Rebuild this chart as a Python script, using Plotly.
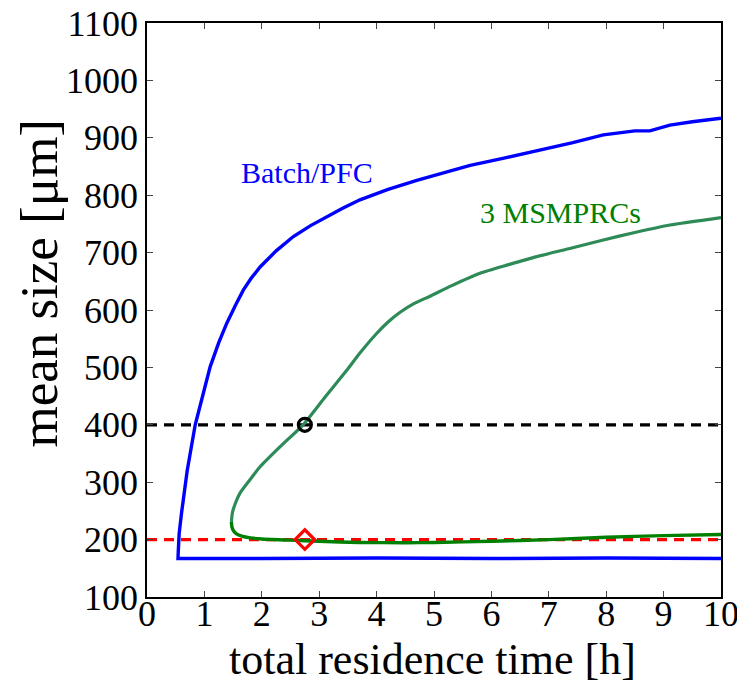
import plotly.graph_objects as go

# Batch/PFC curve (blue)
blue_x = [10, 8, 6, 4, 2, 1, 0.54, 0.545, 0.56, 0.60, 0.63, 0.70, 0.84, 0.95, 1.10, 1.25, 1.39,
          1.55, 1.68, 1.82, 1.97, 2.25, 2.55, 2.85, 3.13, 3.40, 3.71, 4.20, 4.70, 5.20, 5.63,
          6.20, 6.79, 7.40, 7.95, 8.50, 8.76, 9.11, 9.50, 10]
blue_y = [167, 168, 167, 168, 167, 167, 167, 180, 210, 245, 269, 320, 400, 445, 501, 543, 577,
          610, 635, 656, 675, 703, 728, 747, 763, 777, 792, 810, 826, 840, 852,
          864, 877, 891, 905, 912, 912, 922, 928, 934]

# 3 MSMPRCs, upper branch (seagreen)
green_up_x = [1.47, 1.49, 1.55, 1.62, 1.80, 1.97, 2.32, 2.72, 3.10, 3.48, 3.71, 4.00, 4.20, 4.41,
              4.65, 4.93, 5.30, 5.80, 6.30, 6.79, 7.40, 7.95, 8.50, 9.11, 10]
green_up_y = [231, 248, 266, 281, 305, 327, 362, 400, 448, 495, 525, 559, 579, 596,
              611, 624, 642, 664, 679, 693, 708, 722, 735, 748, 761]

# 3 MSMPRCs, lower branch (green)
green_lo_x = [1.47, 1.48, 1.51, 1.56, 1.65, 1.80, 2.0, 2.5, 3.0, 3.71, 4.5, 5, 6, 7, 8, 9, 10]
green_lo_y = [231, 222, 215, 210, 206, 203, 201, 199, 197, 195, 194.5, 195, 197, 200, 204, 207, 209]

# reference levels and operating points
target_levels = [400, 200]
op_x = [2.75, 2.75]
op_y = [400, 200]

x_ticks = list(range(0, 11))
y_ticks = list(range(100, 1101, 100))

FONT = "Liberation Serif, Times New Roman, serif"

fig = go.Figure()
fig.add_trace(go.Scatter(x=[0, 10], y=[target_levels[0]] * 2, mode="lines",
                         line=dict(color="black", width=3.2, dash="10px,7px"), showlegend=False))
fig.add_trace(go.Scatter(x=[0, 10], y=[target_levels[1]] * 2, mode="lines",
                         line=dict(color="red", width=3.2, dash="10px,7px"), showlegend=False))
fig.add_trace(go.Scatter(x=blue_x, y=blue_y, mode="lines",
                         line=dict(color="#0000ff", width=3.4), showlegend=False))
fig.add_trace(go.Scatter(x=green_up_x, y=green_up_y, mode="lines",
                         line=dict(color="#2e8b57", width=3.2, shape="spline", smoothing=0.6),
                         showlegend=False))
fig.add_trace(go.Scatter(x=green_lo_x, y=green_lo_y, mode="lines",
                         line=dict(color="#008000", width=3.4, shape="spline", smoothing=0.5),
                         showlegend=False))
fig.add_trace(go.Scatter(x=[op_x[0]], y=[op_y[0]], mode="markers",
                         marker=dict(symbol="circle-open", size=13, color="black",
                                     line=dict(width=3.2, color="black")), showlegend=False))
fig.add_trace(go.Scatter(x=[op_x[1]], y=[op_y[1]], mode="markers",
                         marker=dict(symbol="diamond-open", size=15, color="red",
                                     line=dict(width=3.2, color="red")), showlegend=False))

fig.add_annotation(x=2.79, y=840, text="Batch/PFC", showarrow=False,
                   font=dict(family=FONT, size=30, color="#0000ff"))
fig.add_annotation(x=7.2, y=770, text="3 MSMPRCs", showarrow=False,
                   font=dict(family=FONT, size=30, color="#008000"))

# axis titles placed as paper annotations
fig.add_annotation(xref="paper", yref="paper", x=0.497, y=0, yshift=-62, xanchor="center",
                   yanchor="middle", text="total residence time [h]", showarrow=False,
                   font=dict(family=FONT, size=44, color="black"))
fig.add_annotation(xref="paper", yref="paper", x=0, xshift=-108, y=0.546, xanchor="center",
                   yanchor="middle", text="mean size [μm]", textangle=-90, showarrow=False,
                   font=dict(family=FONT, size=53, color="black"))

axis_common = dict(showgrid=False, zeroline=False, showline=True, linecolor="black",
                   linewidth=1.5, mirror="ticks", ticks="inside", ticklen=6,
                   tickcolor="#444", tickwidth=1.2, automargin=False,
                   ticklabeloverflow="allow",
                   tickfont=dict(family=FONT, size=36, color="black"))

fig.update_xaxes(range=[0, 10], tickvals=x_ticks, ticktext=[str(v) for v in x_ticks],
                 ticklabelstandoff=-16, **axis_common)
fig.update_yaxes(range=[100, 1100], tickvals=y_ticks, ticktext=[str(v) for v in y_ticks],
                 ticklabelstandoff=0, **axis_common)

# the page body adds an 8px offset, so the figure is sized/margined to compensate
fig.update_layout(width=737, height=676, margin=dict(l=139, r=24, t=15, b=87),
                  plot_bgcolor="white", paper_bgcolor="white")

fig.write_html("out.html")
